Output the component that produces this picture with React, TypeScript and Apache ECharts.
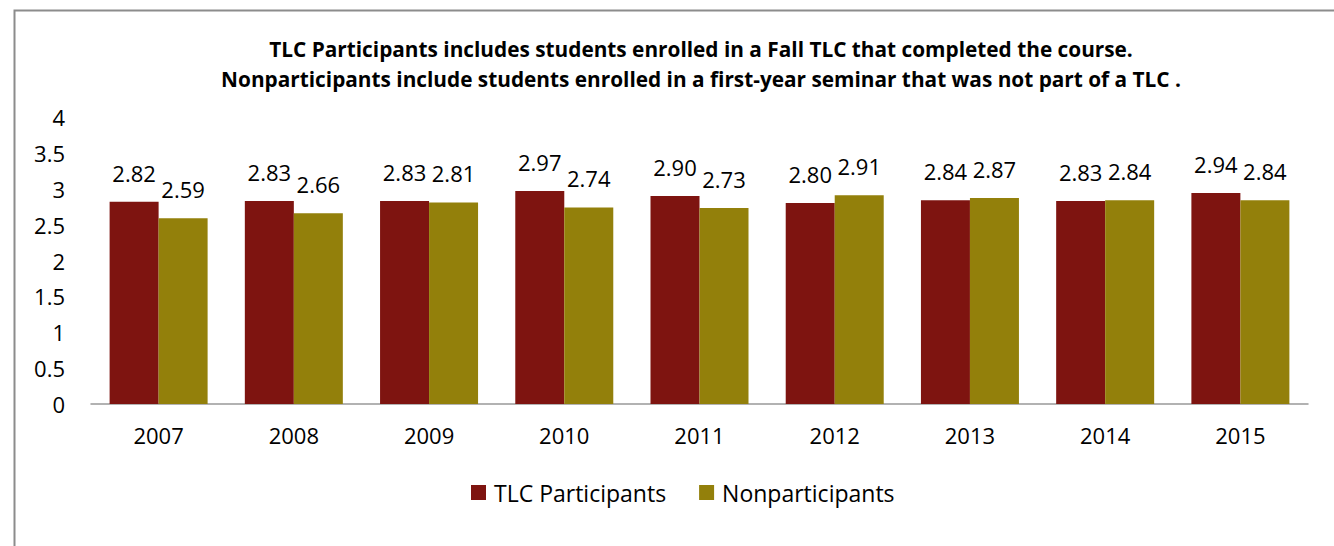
import React, { useEffect, useRef } from "react";
import * as echarts from "echarts";

const years = ["2007", "2008", "2009", "2010", "2011", "2012", "2013", "2014", "2015"];
const tlcParticipants = [2.82, 2.83, 2.83, 2.97, 2.9, 2.8, 2.84, 2.83, 2.94];
const nonparticipants = [2.59, 2.66, 2.81, 2.74, 2.73, 2.91, 2.87, 2.84, 2.84];
const titleLines = [
  "TLC Participants includes students enrolled in a Fall TLC that completed the course.",
  "Nonparticipants include students enrolled in a first-year seminar that was not part of a TLC .",
];

const FONT = "'Open Sans', Lato, sans-serif";

export default function App() {
  const ref = useRef<HTMLDivElement>(null);
  useEffect(() => {
    if (!ref.current) return;
    const chart = echarts.init(ref.current, null, { renderer: "svg" });
    const label = {
      show: true,
      position: "top",
      distance: 18,
      fontSize: 22,
      fontFamily: FONT,
      color: "#000",
      formatter: (p: any) => Number(p.value).toFixed(2),
    };
    chart.setOption({
      animation: false,
      backgroundColor: "#fff",
      title: {
        text: titleLines.join("\n"),
        left: 696,
        textAlign: "center",
        top: 29,
        textStyle: {
          fontFamily: FONT,
          fontSize: 20.8,
          fontWeight: "bold",
          color: "#000",
          lineHeight: 30,
        },
      },
      legend: {
        top: 476,
        left: 466,
        itemWidth: 15,
        itemHeight: 15,
        itemGap: 33,
        icon: "rect",
        textStyle: { fontFamily: FONT, fontSize: 23, color: "#000", padding: [0, 0, 0, 3] },
        data: ["TLC Participants", "Nonparticipants"],
      },
      grid: { left: 91, right: 26, top: 117, bottom: 142, containLabel: false },
      xAxis: {
        type: "category",
        data: years,
        axisLine: { show: true, lineStyle: { color: "#999", width: 1.5 } },
        axisTick: { show: false },
        axisLabel: { fontFamily: FONT, fontSize: 22, color: "#000", margin: 20 },
      },
      yAxis: {
        type: "value",
        min: 0,
        max: 4,
        interval: 0.5,
        axisLine: { show: false },
        axisTick: { show: false },
        splitLine: { show: false },
        axisLabel: { fontFamily: FONT, fontSize: 22, color: "#000", margin: 26 },
      },
      graphic: [
        {
          type: "rect",
          shape: { x: 14.5, y: 10.5, width: 1340, height: 560 },
          style: { fill: "none", stroke: "#8c8c8c", lineWidth: 2 },
          silent: true,
        },
      ],
      series: [
        {
          name: "TLC Participants",
          type: "bar",
          data: tlcParticipants,
          barWidth: 49,
          barGap: "0%",
          itemStyle: { color: "#7E1410" },
          label,
        },
        {
          name: "Nonparticipants",
          type: "bar",
          data: nonparticipants,
          barWidth: 49,
          barGap: "0%",
          itemStyle: { color: "#93800B" },
          label,
        },
      ],
    });
    return () => chart.dispose();
  }, []);
  return (
    <div
      ref={ref}
      style={{ position: "fixed", left: 0, top: 0, width: 1334, height: 546 }}
    />
  );
}
